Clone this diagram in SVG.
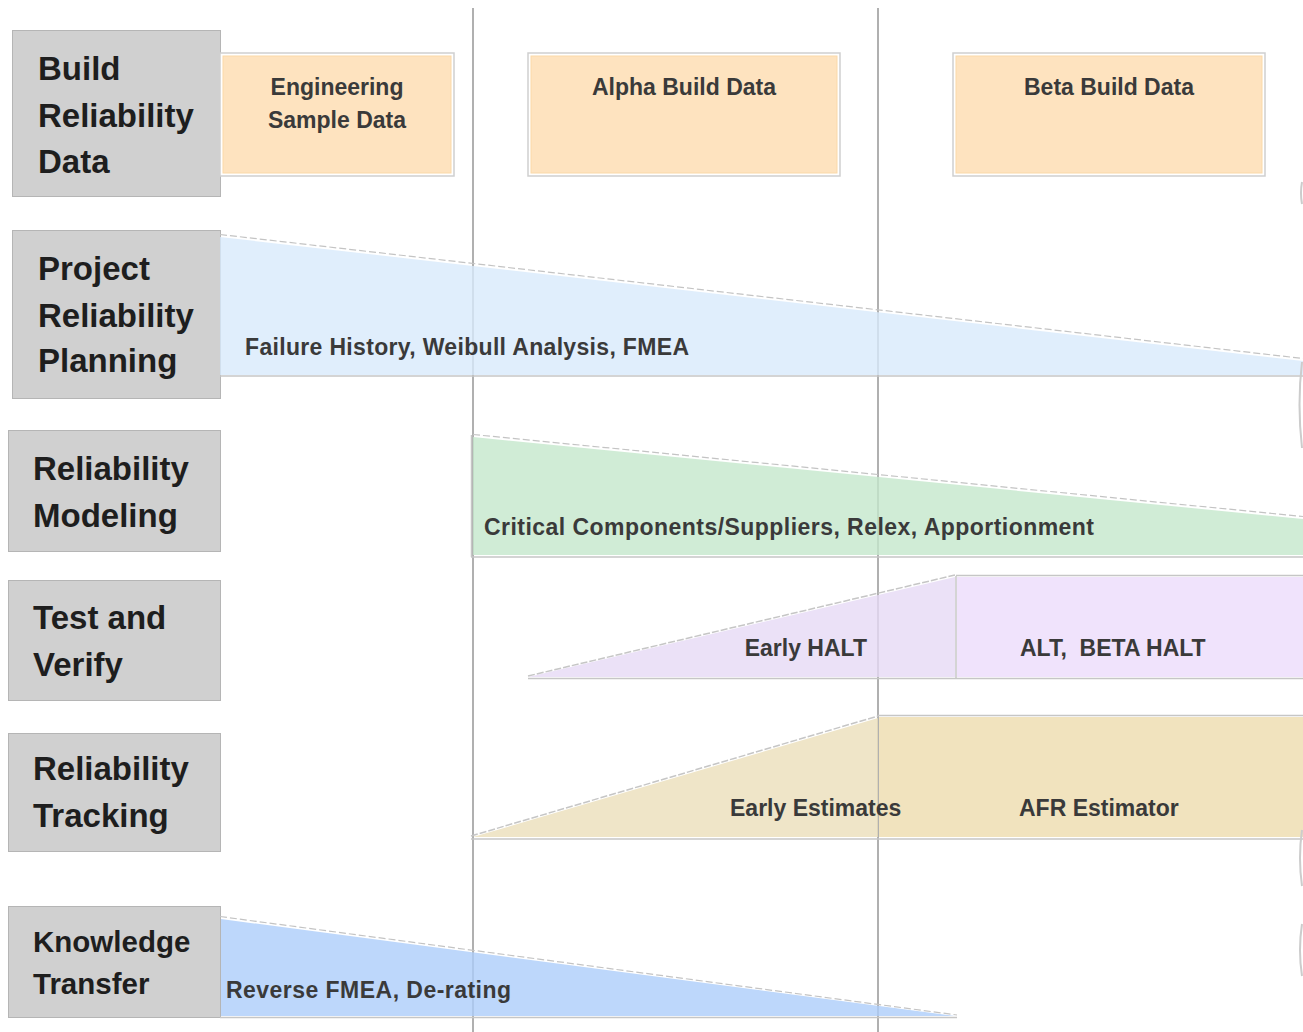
<svg xmlns="http://www.w3.org/2000/svg" width="1303" height="1032" viewBox="0 0 1303 1032">
<style>
.lbl{fill:#d0d0d0;stroke:#b5b5b5;stroke-width:1}
.lt{font-family:"Liberation Sans",Arial,sans-serif;font-weight:bold;font-size:33px;fill:#1e1e1e}
.lt2{font-family:"Liberation Sans",Arial,sans-serif;font-weight:bold;font-size:29.5px;fill:#1e1e1e}
.st{font-family:"Liberation Sans",Arial,sans-serif;font-weight:bold;font-size:23px;fill:#3a3a3a}
.dout{fill:#ffffff;stroke:#cfcfcf;stroke-width:1.5}
.din{fill:#fee3bf;stroke:#fbd9a8;stroke-width:1}
.div{stroke:#b0b0b0;stroke-width:2;fill:none}
.shadow{stroke:#c4c4c4;stroke-width:1.2;stroke-dasharray:7 3;fill:none}
.edge{stroke:#c6c6c6;stroke-width:1.5;fill:none}
.wedge{fill-opacity:0.8}
.art{stroke:#cccccc;stroke-width:2;fill:none}
</style>
<rect width="1303" height="1032" fill="#ffffff"/>
<g id="dividers">
<line class="div" x1="473" y1="8" x2="473" y2="1032"/>
<line class="div" x1="878" y1="8" x2="878" y2="1032"/>
</g>
<g id="label-build">
<rect class="lbl" x="12.5" y="30.5" width="208" height="166"/>
<text class="lt" x="38" y="80">Build</text>
<text class="lt" x="38" y="127">Reliability</text>
<text class="lt" x="38" y="173">Data</text>
</g>
<g id="label-planning">
<rect class="lbl" x="12.5" y="230.5" width="208" height="168"/>
<text class="lt" x="38" y="280">Project</text>
<text class="lt" x="38" y="327">Reliability</text>
<text class="lt" x="38" y="372">Planning</text>
</g>
<g id="label-modeling">
<rect class="lbl" x="8.5" y="430.5" width="212" height="121"/>
<text class="lt" x="33" y="480">Reliability</text>
<text class="lt" x="33" y="527">Modeling</text>
</g>
<g id="label-test">
<rect class="lbl" x="8.5" y="580.5" width="212" height="120"/>
<text class="lt" x="33" y="629">Test and</text>
<text class="lt" x="33" y="676">Verify</text>
</g>
<g id="label-tracking">
<rect class="lbl" x="8.5" y="733.5" width="212" height="118"/>
<text class="lt" x="33" y="780">Reliability</text>
<text class="lt" x="33" y="827">Tracking</text>
</g>
<g id="label-knowledge">
<rect class="lbl" x="8.5" y="906.5" width="212" height="111"/>
<text class="lt2" x="33" y="952">Knowledge</text>
<text class="lt2" x="33" y="994">Transfer</text>
</g>
<g id="data-engineering">
<rect class="dout" x="220" y="53" width="234" height="123"/>
<rect class="din" x="223" y="56" width="228" height="117"/>
<text class="st" x="337" y="95" text-anchor="middle">Engineering</text>
<text class="st" x="337" y="128" text-anchor="middle">Sample Data</text>
</g>
<g id="data-alpha">
<rect class="dout" x="528" y="53" width="312" height="123"/>
<rect class="din" x="531" y="56" width="306" height="117"/>
<text class="st" x="684" y="95" text-anchor="middle">Alpha Build Data</text>
</g>
<g id="data-beta">
<rect class="dout" x="953" y="53" width="312" height="123"/>
<rect class="din" x="956" y="56" width="306" height="117"/>
<text class="st" x="1109" y="95" text-anchor="middle">Beta Build Data</text>
</g>
<g id="wedge-planning">
<polygon class="wedge" fill="#d8eafb" points="220,237 1303,361 1303,375 220,375"/>
<line class="shadow" x1="220" y1="234.5" x2="1303" y2="358.5"/>
<line class="edge" x1="220" y1="376" x2="1303" y2="376"/>
<text class="st" x="245" y="355" textLength="444">Failure History, Weibull Analysis, FMEA</text>
</g>
<g id="wedge-modeling">
<polygon class="wedge" fill="#c4e7cc" points="473,437 1303,519 1303,555 473,555"/>
<line class="shadow" x1="473" y1="434.5" x2="1303" y2="516.5"/>
<line class="edge" x1="471.5" y1="435" x2="471.5" y2="557"/>
<line class="edge" x1="471" y1="557" x2="1303" y2="557"/>
<text class="st" x="484" y="535" textLength="610">Critical Components/Suppliers, Relex, Apportionment</text>
</g>
<g id="wedge-test">
<polygon class="wedge" fill="#e6daf5" points="528,677 955,577 955,677"/>
<line class="edge" x1="528" y1="676" x2="955" y2="575" stroke-dasharray="7 2"/>
<line class="edge" x1="528" y1="678.5" x2="1303" y2="678.5"/>
<rect x="957" y="577" width="346" height="100" fill="#f0e3fc"/>
<line class="edge" x1="956" y1="576" x2="956" y2="678"/>
<line class="edge" x1="956" y1="575.5" x2="1303" y2="575.5"/>
<text class="st" x="867" y="656" text-anchor="end">Early HALT</text>
<text class="st" x="1020" y="656" xml:space="preserve">ALT,  BETA HALT</text>
</g>
<g id="wedge-tracking">
<polygon class="wedge" fill="#ebdeba" points="473,837 878,718 878,837"/>
<line class="edge" x1="471" y1="836" x2="878" y2="716" stroke-dasharray="7 2"/>
<line class="edge" x1="471" y1="839" x2="1303" y2="839"/>
<rect x="879" y="717" width="424" height="120" fill="#f1e3be"/>
<line class="edge" x1="878" y1="715.5" x2="1303" y2="715.5"/>
<text class="st" x="730" y="816">Early Estimates</text>
<text class="st" x="1019" y="816">AFR Estimator</text>
</g>
<g id="wedge-knowledge">
<polygon class="wedge" fill="#accdfa" points="221,919 955,1016 221,1016"/>
<line class="shadow" x1="220" y1="916.5" x2="957" y2="1015"/>
<line class="edge" x1="220" y1="1017.5" x2="957" y2="1017.5"/>
<text class="st" x="226" y="998" textLength="285">Reverse FMEA, De-rating</text>
</g>
<g id="edge-marks">
<path class="art" d="M1302,182 q-2,11 0,22"/>
<path class="art" d="M1302,362 q-5,42 0,86"/>
<path class="art" d="M1302,830 q-4,28 0,56"/>
<path class="art" d="M1302,924 q-4,26 0,52"/>
</g>
</svg>
